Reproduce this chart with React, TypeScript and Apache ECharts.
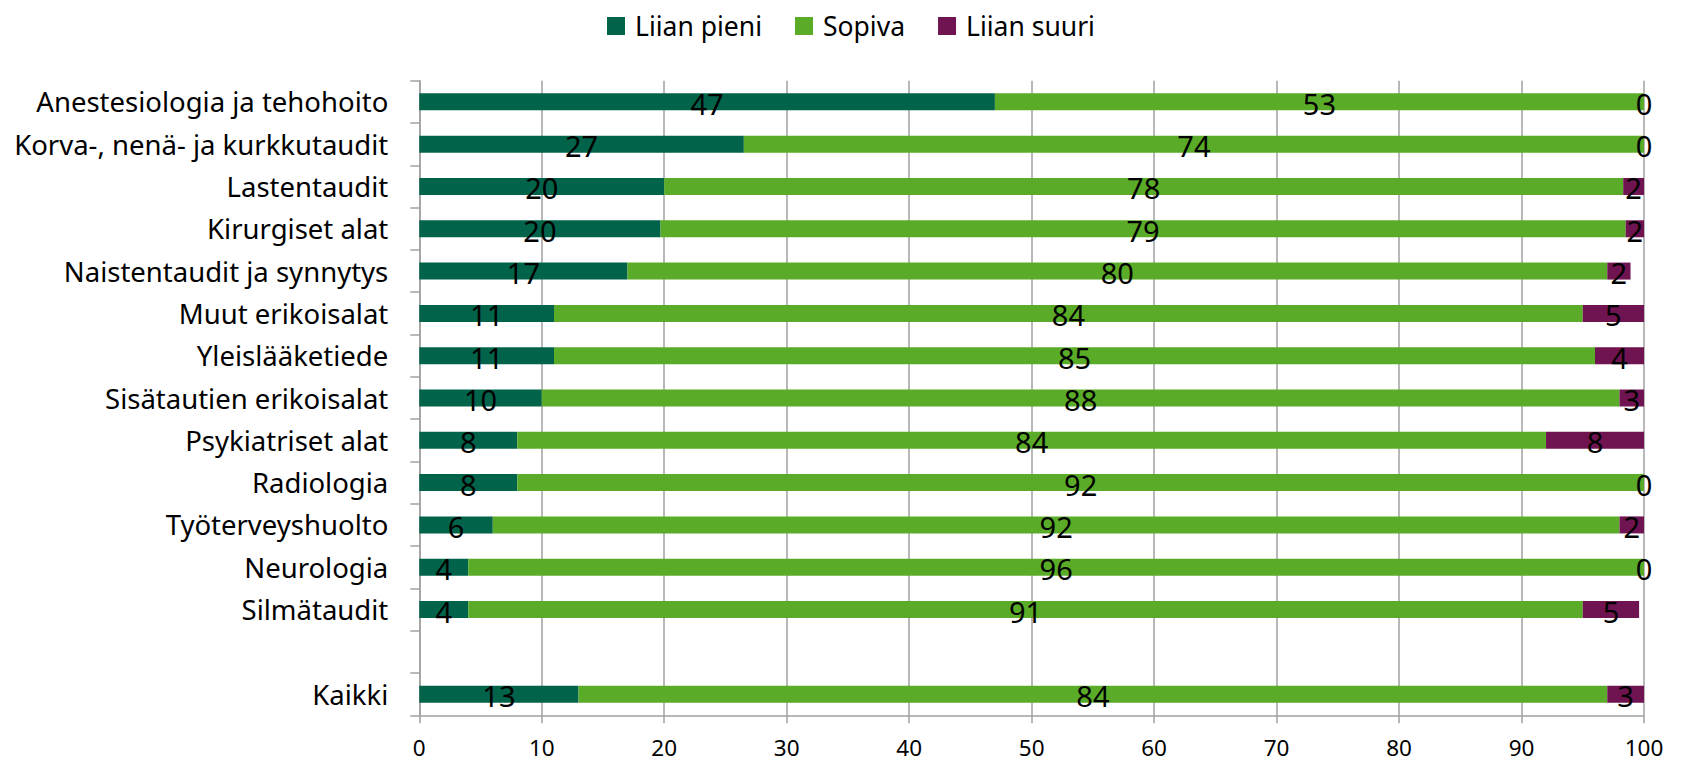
import React, { useEffect, useRef } from "react";
import * as echarts from "echarts";

const categories: string[] = [
  "Anestesiologia ja tehohoito",
  "Korva-, nenä- ja kurkkutaudit",
  "Lastentaudit",
  "Kirurgiset alat",
  "Naistentaudit ja synnytys",
  "Muut erikoisalat",
  "Yleislääketiede",
  "Sisätautien erikoisalat",
  "Psykiatriset alat",
  "Radiologia",
  "Työterveyshuolto",
  "Neurologia",
  "Silmätaudit",
  "",
  "Kaikki",
];

const seriesNames = ["Liian pieni", "Sopiva", "Liian suuri"];

const liianPieni: (number | string)[] = [47, 26.5, 20, 19.7, 17, 11, 11, 10, 8, 8, 6, 4, 4, "-", 13];
const sopiva: (number | string)[] = [53, 73.5, 78.3, 78.8, 80, 84, 85, 88, 84, 92, 92, 96, 91, "-", 84];
const liianSuuri: (number | string)[] = [0, 0, 1.7, 1.5, 1.9, 5, 4, 2.6, 8, 0, 2, 0, 4.6, "-", 3];

const xTicks = { min: 0, max: 100, interval: 10 };

const colors = ["#00634a", "#5aab28", "#6f1351"];

const FONT = "'Noto Sans', sans-serif";

export default function App() {
  const ref = useRef<HTMLDivElement>(null);
  useEffect(() => {
    document.body.style.margin = "0";
    if (!ref.current) return;
    const chart = echarts.init(ref.current, undefined, { renderer: "svg" });
    const label = {
      show: true,
      position: "inside" as const,
      color: "#000",
      fontFamily: FONT,
      fontSize: 29,
      offset: [0, 1.5],
      formatter: (p: any) =>
        p.value === "-" || p.value == null ? "" : String(Math.round(p.value)),
    };
    const dataSets = [liianPieni, sopiva, liianSuuri];
    chart.setOption({
      animation: false,
      color: colors,
      textStyle: { fontFamily: FONT },
      legend: {
        top: 7.5,
        left: 602,
        itemWidth: 18,
        itemHeight: 18,
        itemGap: 33,
        icon: "rect",
        textStyle: { fontSize: 26.5, color: "#000", fontFamily: FONT, padding: [0, 0, 0, 5] },
        data: seriesNames,
      },
      grid: { left: 419.3, right: 38, top: 80.7, bottom: 46.7, containLabel: false },
      xAxis: {
        type: "value",
        min: xTicks.min,
        max: xTicks.max,
        interval: xTicks.interval,
        axisLine: { show: true, lineStyle: { color: "#a0a0a0", width: 1.5 } },
        axisTick: { show: true, length: 8, lineStyle: { color: "#a0a0a0", width: 1.5 } },
        splitLine: { show: true, lineStyle: { color: "#a0a0a0", width: 1.5 } },
        axisLabel: { color: "#000", fontSize: 22.5, lineHeight: 23, fontFamily: FONT, margin: 21 },
      },
      yAxis: {
        type: "category",
        inverse: true,
        data: categories,
        axisLine: { show: true, lineStyle: { color: "#a0a0a0", width: 1.5 } },
        axisTick: { show: true, length: 9, alignWithLabel: false, lineStyle: { color: "#a0a0a0", width: 1.5 } },
        axisLabel: { color: "#000", fontSize: 27.5, fontFamily: FONT, margin: 31 },
        splitLine: { show: false },
      },
      series: seriesNames.map((name, i) => ({
        name,
        type: "bar",
        stack: "total",
        barWidth: 17,
        data: dataSets[i],
        label,
        itemStyle: { color: colors[i] },
      })),
    });
    return () => chart.dispose();
  }, []);
  return <div ref={ref} style={{ width: 1682, height: 762 }} />;
}
